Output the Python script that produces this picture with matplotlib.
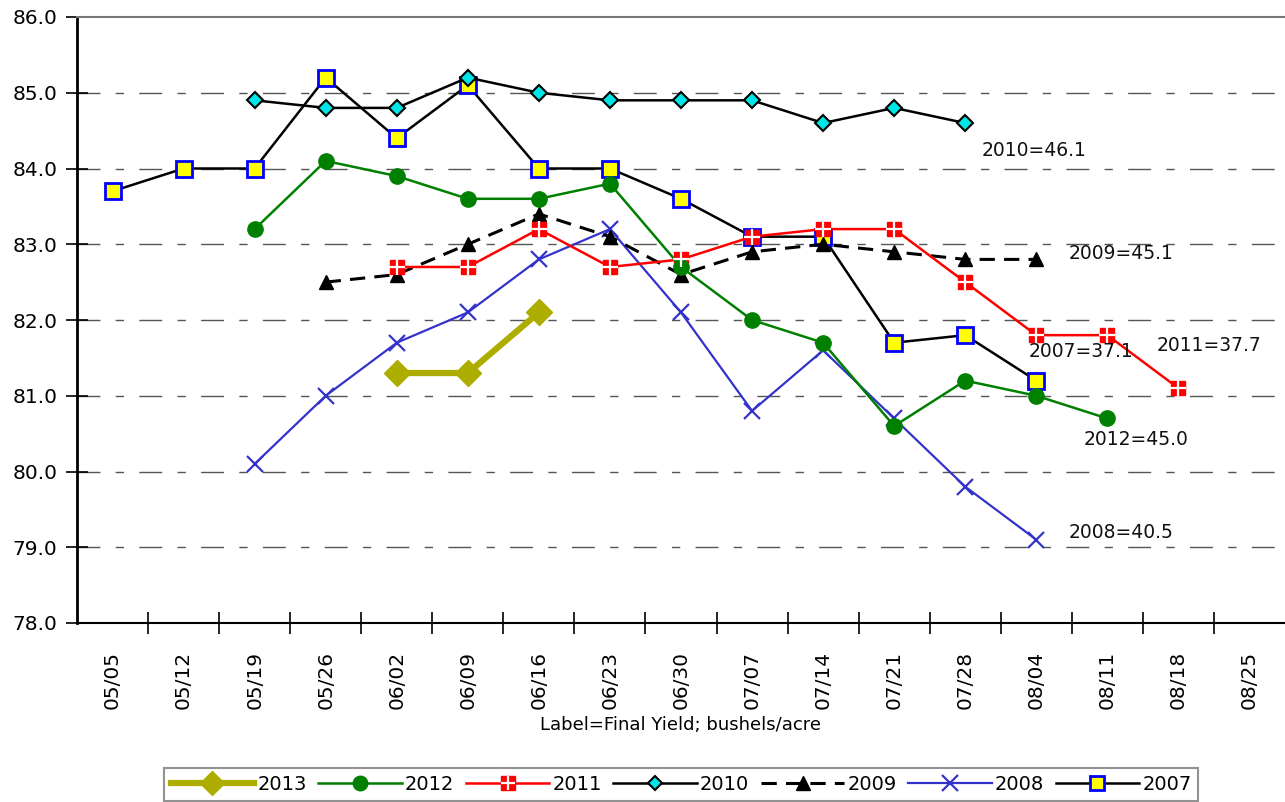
import matplotlib.pyplot as plt
import numpy as np

weeks = ['05/05', '05/12', '05/19', '05/26', '06/02', '06/09', '06/16', '06/23',
         '06/30', '07/07', '07/14', '07/21', '07/28', '08/04', '08/11', '08/18', '08/25']

# value lists aligned to weeks; None = no report that week
y2013 = [None, None, None, None, 81.3, 81.3, 82.1]
y2012 = [None, None, 83.2, 84.1, 83.9, 83.6, 83.6, 83.8, 82.7, 82.0, 81.7, 80.6, 81.2, 81.0, 80.7]
y2011 = [None, None, None, None, 82.7, 82.7, 83.2, 82.7, 82.8, 83.1, 83.2, 83.2, 82.5, 81.8, 81.8, 81.1]
y2010 = [None, None, 84.9, 84.8, 84.8, 85.2, 85.0, 84.9, 84.9, 84.9, 84.6, 84.8, 84.6]
y2009 = [None, None, None, 82.5, 82.6, 83.0, 83.4, 83.1, 82.6, 82.9, 83.0, 82.9, 82.8, 82.8]
y2008 = [None, None, 80.1, 81.0, 81.7, 82.1, 82.8, 83.2, 82.1, 80.8, 81.6, 80.7, 79.8, 79.1]
y2007 = [83.7, 84.0, 84.0, 85.2, 84.4, 85.1, 84.0, 84.0, 83.6, 83.1, 83.1, 81.7, 81.8, 81.2]

# final-yield labels and where they sit (week index, value)
final_labels = ['2010=46.1', '2009=45.1', '2007=37.1', '2011=37.7', '2012=45.0', '2008=40.5']
label_pos = [(12.23, 84.24), (13.46, 82.88), (12.89, 81.58), (14.69, 81.66), (13.67, 80.42), (13.46, 79.19)]


def series(vals):
    x = [i for i, v in enumerate(vals) if v is not None]
    y = [v for v in vals if v is not None]
    return x, y


plt.rcParams['font.family'] = ['DejaVu Sans']
fig = plt.figure(figsize=(12.85, 8.02), dpi=100, facecolor='white')
ax = fig.add_axes([77 / 1285, 179 / 802, 1 - 77 / 1285, (623 - 17) / 802])

# grid
for v in range(79, 86):
    ax.axhline(v, color='#555555', lw=1.0, dashes=[16.5, 11, 6, 11], zorder=1)

x, y = series(y2007)
l2007, = ax.plot(x, y, color='black', lw=1.8, marker='s', ms=11, mfc='#FFFF00',
                 mec='#0000FF', mew=2, label='2007', zorder=3)
x, y = series(y2008)
l2008, = ax.plot(x, y, color='#3333CC', lw=1.6, marker='x', ms=12, mew=1.6, label='2008', zorder=3)
x, y = series(y2009)
l2009, = ax.plot(x, y, color='black', lw=2.2, dashes=[5, 3], marker='^', ms=10,
                 mfc='black', mec='black', label='2009', zorder=3)
x, y = series(y2010)
l2010, = ax.plot(x, y, color='black', lw=1.8, marker='D', ms=8, mfc='#00E5E5',
                 mec='black', mew=1.5, label='2010', zorder=3)
x, y = series(y2011)
l2011, = ax.plot(x, y, color='#FF0000', lw=1.8, marker='s', ms=10, mfc='#FF0000',
                 mec='#FF0000', label='2011', zorder=3)
p2011, = ax.plot(x, y, ls='none', marker='+', ms=11, mew=1.6, mec='white', zorder=3.1)
x, y = series(y2012)
l2012, = ax.plot(x, y, color='#008000', lw=1.8, marker='o', ms=11, mfc='#008000',
                 mec='#008000', label='2012', zorder=3)
x, y = series(y2013)
l2013, = ax.plot(x, y, color='#ADAD00', lw=4.5, marker='D', ms=13, mfc='#ADAD00',
                 mec='#ADAD00', label='2013', zorder=3)

for t, (px, py) in zip(final_labels, label_pos):
    ax.text(px, py, t, fontsize=13.5, va='center', ha='left', color='#111111', zorder=4)

ax.set_xlim(-0.5, len(weeks) - 0.5)
ax.set_ylim(78, 86)
ax.set_yticks(np.arange(78, 86.1, 1))
ax.set_yticklabels(['%.1f' % v for v in np.arange(78, 86.1, 1)], fontsize=14.5)
ax.set_xticks(range(len(weeks)))
ax.set_xticklabels(weeks, rotation=90, fontsize=14.5)
ax.set_xticks(np.arange(0.5, len(weeks) - 0.5, 1), minor=True)
ax.tick_params(axis='x', which='major', length=0, pad=20)
ax.tick_params(axis='x', which='minor', direction='inout', length=16, width=1.2)
ax.tick_params(axis='y', direction='inout', length=16, width=1.2, pad=6)

ax.spines['right'].set_visible(False)
ax.spines['top'].set_color('#777777')
ax.spines['top'].set_linewidth(1.5)
ax.spines['left'].set_linewidth(2)
ax.spines['bottom'].set_linewidth(1.5)

ax.set_xlabel('Label=Final Yield; bushels/acre', fontsize=13, labelpad=5)

handles = [l2013, l2012, (l2011, p2011), l2010, l2009, l2008, l2007]
labels = ['2013', '2012', '2011', '2010', '2009', '2008', '2007']
leg = fig.legend(handles, labels, loc='upper center', bbox_to_anchor=(0.53, 1 - 768 / 802),
                 ncol=7, fontsize=14, frameon=True, fancybox=False, edgecolor='#777777',
                 handlelength=4.3, columnspacing=0.6, handletextpad=0.15,
                 borderpad=0.35, borderaxespad=0, markerscale=0.95)
leg.get_frame().set_linewidth(1.5)

fig.savefig('out.png', dpi=100)
